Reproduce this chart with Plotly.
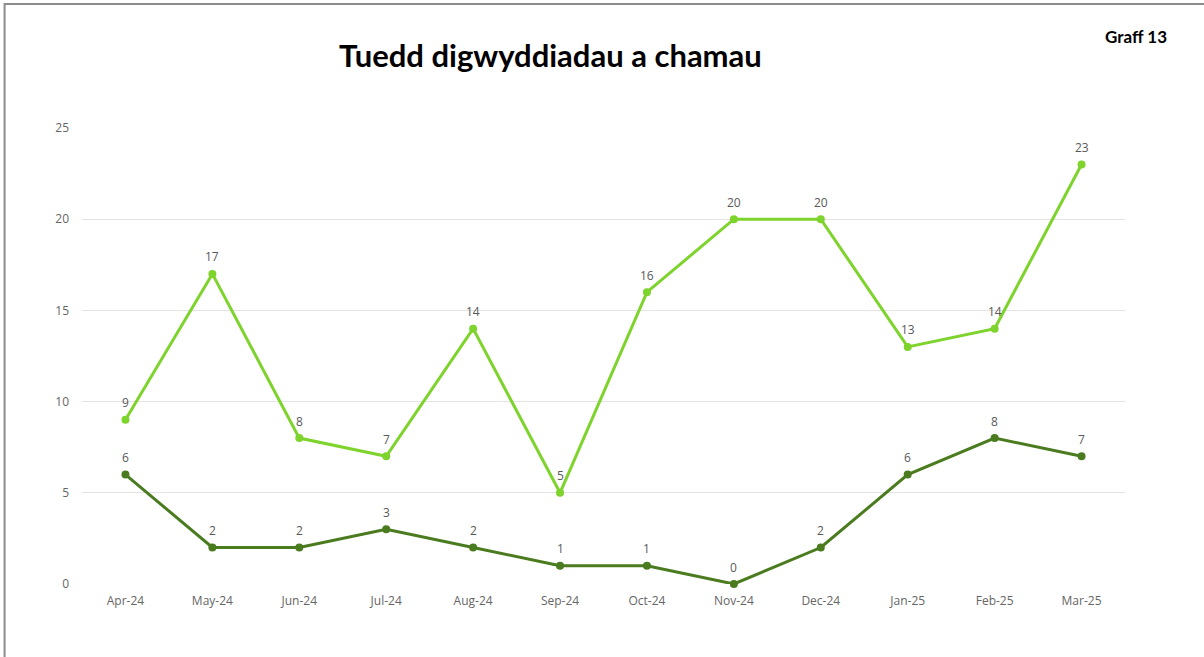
import plotly.graph_objects as go

months = ["Apr-24", "May-24", "Jun-24", "Jul-24", "Aug-24", "Sep-24",
          "Oct-24", "Nov-24", "Dec-24", "Jan-25", "Feb-25", "Mar-25"]
incidents = [9, 17, 8, 7, 14, 5, 16, 20, 20, 13, 14, 23]
harms = [6, 2, 2, 3, 2, 1, 1, 0, 2, 6, 8, 7]
y_ticks = [0, 5, 10, 15, 20, 25]

light = "#7ed32c"
dark = "#4b7b1f"

fig = go.Figure()
annotations = []
for vals, col in [(incidents, light), (harms, dark)]:
    fig.add_trace(go.Scatter(
        x=months, y=vals, mode="lines+markers",
        line=dict(color=col, width=3), marker=dict(color=col, size=8),
        showlegend=False, cliponaxis=False, hoverinfo="x+y"))
    for m, v in zip(months, vals):
        annotations.append(dict(
            x=m, y=v, text=str(v), showarrow=False, yshift=17,
            xanchor="center", yanchor="middle",
            font=dict(family="Open Sans", size=12, color="#595959")))

annotations += [
    dict(text="<b>Tuedd digwyddiadau a chamau</b>", xref="paper", yref="paper",
         x=(550 - 81.5) / 1044, y=(584 - 55) / 456, xanchor="center", yanchor="middle",
         showarrow=False, font=dict(family="Lato", size=31, color="#000000")),
    dict(text="<b>Graff 13</b>", xref="paper", yref="paper",
         x=(1137 - 81.5) / 1044, y=(584 - 36) / 456, xanchor="center", yanchor="middle",
         showarrow=False, font=dict(family="Lato", size=17, color="#000000")),
]

fig.update_layout(
    width=1204, height=657,
    margin=dict(l=81.5, r=78.5, t=128, b=73),
    paper_bgcolor="white", plot_bgcolor="white",
    font=dict(family="Open Sans", size=12, color="#666666"),
    xaxis=dict(type="category", showgrid=False, showline=False, ticks="",
               ticklabelstandoff=8,
               tickfont=dict(size=12, color="#666666"), range=[-0.5, 11.5]),
    yaxis=dict(range=[0, 25], tickvals=y_ticks, showgrid=True,
               gridcolor="#e3e3e3", gridwidth=1, zeroline=False, showline=False,
               ticks="", ticklabelstandoff=12,
               tickfont=dict(size=12, color="#666666")),
    shapes=[dict(type="rect", xref="paper", yref="paper",
                 x0=(4 - 81.5) / 1044, x1=1.5, y0=-0.5, y1=(584 - 4) / 456,
                 line=dict(color="#8c8c8c", width=2), fillcolor="rgba(0,0,0,0)",
                 layer="below")],
    annotations=annotations,
)

fig.write_html("out.html", config={"displayModeBar": False},
               post_script="document.body.style.margin='0';")
